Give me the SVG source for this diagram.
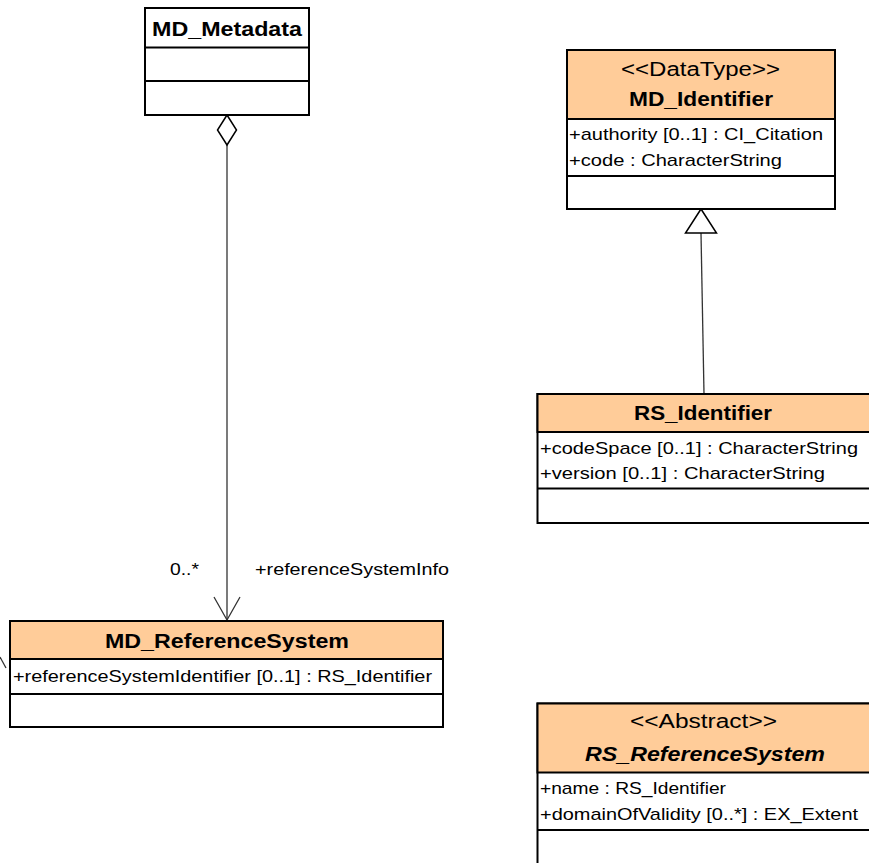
<svg xmlns="http://www.w3.org/2000/svg" width="869" height="863" viewBox="0 0 869 863">
<style>
.box{fill:#fff;stroke:#000;stroke-width:2}
.hdr{fill:#FFCC99;stroke:#000;stroke-width:2}
.sep{stroke:#000;stroke-width:2}
.t{font-family:"Liberation Sans","Noto Sans CJK JP",sans-serif;fill:#000}
.name{font-size:20px;font-weight:bold;text-anchor:middle}
.ster{font-size:20px;text-anchor:middle}
.attr{font-size:17px}
.lbl{font-size:17px}
.conn{stroke:#333;stroke-width:1.3;fill:none}
</style>
<rect width="869" height="863" fill="#fff"/>
<g id="connectors">
  <line class="conn" x1="227" y1="145" x2="227" y2="620"/>
  <polygon points="227,115 236.5,130 227,145 217.5,130" fill="#fff" stroke="#000" stroke-width="1.5"/>
  <polyline class="conn" points="214,597 227,620 240,597" stroke="#000" stroke-width="1.5"/>
  <text class="t lbl" x="170" y="575" textLength="29" lengthAdjust="spacingAndGlyphs">0..*</text>
  <text class="t lbl" x="255" y="575" textLength="194" lengthAdjust="spacingAndGlyphs">+referenceSystemInfo</text>
  <line class="conn" x1="701" y1="233" x2="704" y2="394"/>
  <polygon points="701,209 716.5,233 685.5,233" fill="#fff" stroke="#000" stroke-width="1.5"/>
  <line class="conn" x1="0" y1="657" x2="6" y2="668"/>
</g>
<g id="MD_Metadata">
  <rect class="box" x="145" y="8" width="164" height="107"/>
  <line class="sep" x1="145" y1="47.5" x2="309" y2="47.5"/>
  <line class="sep" x1="145" y1="81" x2="309" y2="81"/>
  <text class="t name" x="227" y="36" textLength="150" lengthAdjust="spacingAndGlyphs">MD_Metadata</text>
</g>
<g id="MD_Identifier">
  <rect class="box" x="567" y="50" width="268" height="159"/>
  <rect class="hdr" x="567" y="50" width="268" height="69"/>
  <line class="sep" x1="567" y1="176" x2="835" y2="176"/>
  <text class="t ster" x="700.5" y="76" textLength="159" lengthAdjust="spacingAndGlyphs">&lt;&lt;DataType&gt;&gt;</text>
  <text class="t name" x="701" y="106" textLength="144" lengthAdjust="spacingAndGlyphs">MD_Identifier</text>
  <text class="t attr" x="569" y="140" textLength="254" lengthAdjust="spacingAndGlyphs">+authority [0..1] : CI_Citation</text>
  <text class="t attr" x="569" y="166" textLength="213" lengthAdjust="spacingAndGlyphs">+code : CharacterString</text>
</g>
<g id="RS_Identifier">
  <rect class="box" x="537.5" y="394" width="340" height="129"/>
  <rect class="hdr" x="537.5" y="394" width="340" height="38"/>
  <line class="sep" x1="537.5" y1="488.5" x2="877" y2="488.5"/>
  <text class="t name" x="703" y="420" textLength="138" lengthAdjust="spacingAndGlyphs">RS_Identifier</text>
  <text class="t attr" x="540" y="454" textLength="318" lengthAdjust="spacingAndGlyphs">+codeSpace [0..1] : CharacterString</text>
  <text class="t attr" x="540" y="479" textLength="285" lengthAdjust="spacingAndGlyphs">+version [0..1] : CharacterString</text>
</g>
<g id="MD_ReferenceSystem">
  <rect class="box" x="10" y="621" width="433" height="106"/>
  <rect class="hdr" x="10" y="621" width="433" height="38"/>
  <line class="sep" x1="10" y1="694" x2="443" y2="694"/>
  <text class="t name" x="227" y="648" textLength="244" lengthAdjust="spacingAndGlyphs">MD_ReferenceSystem</text>
  <text class="t attr" x="13" y="682" textLength="419" lengthAdjust="spacingAndGlyphs">+referenceSystemIdentifier [0..1] : RS_Identifier</text>
</g>
<g id="RS_ReferenceSystem">
  <rect class="box" x="537.5" y="703.5" width="340" height="170"/>
  <rect class="hdr" x="537.5" y="703.5" width="340" height="69"/>
  <line class="sep" x1="537.5" y1="830" x2="877" y2="830"/>
  <text class="t ster" x="703.5" y="728" textLength="147" lengthAdjust="spacingAndGlyphs">&lt;&lt;Abstract&gt;&gt;</text>
  <text class="t name" x="705" y="761" font-style="italic" textLength="240" lengthAdjust="spacingAndGlyphs">RS_ReferenceSystem</text>
  <text class="t attr" x="540" y="794" textLength="186" lengthAdjust="spacingAndGlyphs">+name : RS_Identifier</text>
  <text class="t attr" x="540" y="820" textLength="318" lengthAdjust="spacingAndGlyphs">+domainOfValidity [0..*] : EX_Extent</text>
</g>
</svg>
